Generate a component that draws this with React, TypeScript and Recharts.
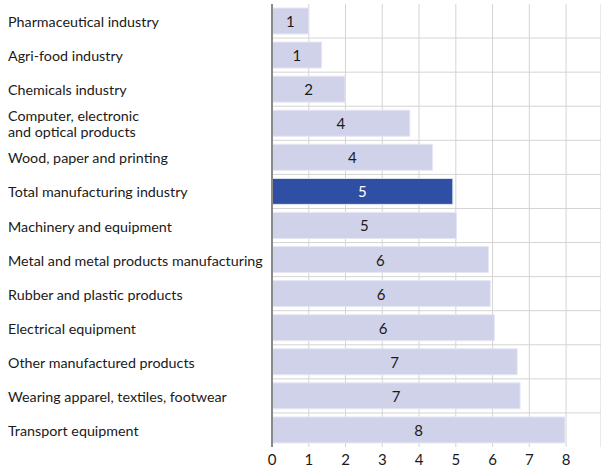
import React from "react";
import {
  BarChart,
  Bar,
  XAxis,
  YAxis,
  CartesianGrid,
  Cell,
  LabelList,
} from "recharts";

const categories = [
  "Pharmaceutical industry",
  "Agri-food industry",
  "Chemicals industry",
  "Computer, electronic\nand optical products",
  "Wood, paper and printing",
  "Total manufacturing industry",
  "Machinery and equipment",
  "Metal and metal products manufacturing",
  "Rubber and plastic products",
  "Electrical equipment",
  "Other manufactured products",
  "Wearing apparel, textiles, footwear",
  "Transport equipment",
];

const values = [1.0, 1.35, 1.99, 3.75, 4.37, 4.92, 5.02, 5.89, 5.94, 6.05, 6.67, 6.75, 7.97];

const xTicks = [0, 1, 2, 3, 4, 5, 6, 7, 8];

const HIGHLIGHT = "Total manufacturing industry";
const FONT = "Lato, 'Open Sans', sans-serif";

const data = categories.map((name, i) => ({ name, value: values[i] }));

function CategoryTick({ y, payload }: any) {
  const lines = String(payload.value).split("\n");
  const startY = y - ((lines.length - 1) * 16) / 2;
  return (
    <text
      x={8}
      y={startY}
      textAnchor="start"
      dominantBaseline="central"
      fill="#1a1a1a"
      fontSize={14.3}
      fontFamily={FONT}
    >
      {lines.map((line, i) => (
        <tspan key={i} x={8} dy={i === 0 ? 0 : 16}>
          {line}
        </tspan>
      ))}
    </text>
  );
}

function ValueLabel(props: any) {
  const { x, y, width, height, value, index } = props;
  const isTotal = categories[index] === HIGHLIGHT;
  return (
    <text
      x={x + width / 2}
      y={y + height / 2}
      textAnchor="middle"
      dominantBaseline="central"
      fill={isTotal ? "#ffffff" : "#1a1a1a"}
      fontSize={15}
      fontFamily={FONT}
    >
      {Math.round(value)}
    </text>
  );
}

export default function App() {
  return (
    <div style={{ position: "absolute", left: 0, top: 0, width: 601, height: 468, background: "#fff" }}>
      <BarChart
        width={601}
        height={468}
        data={data}
        layout="vertical"
        margin={{ top: 4, right: 0, left: 0, bottom: 1 }}
      >
        <CartesianGrid
          stroke="#d4d4d4"
          horizontalCoordinatesGenerator={({ offset }: any) =>
            categories.slice(1).map((_, i) => offset.top + ((i + 1) * offset.height) / categories.length)
          }
        />
        <XAxis
          type="number"
          domain={[0, 8.95]}
          ticks={xTicks}
          axisLine={false}
          tickLine={false}
          tickMargin={1}
          height={20}
          tick={{ fill: "#1a1a1a", fontSize: 15, fontFamily: FONT }}
        />
        <YAxis
          type="category"
          dataKey="name"
          width={272}
          axisLine={{ stroke: "#8a8a8a", strokeWidth: 2 }}
          tickLine={false}
          interval={0}
          tick={<CategoryTick />}
        />
        <Bar dataKey="value" barSize={26} isAnimationActive={false} stroke="#e6e7f4" strokeWidth={1}>
          {data.map((d) => (
            <Cell key={d.name} fill={d.name === HIGHLIGHT ? "#2e4fa3" : "#d0d2ea"} />
          ))}
          <LabelList dataKey="value" content={<ValueLabel />} />
        </Bar>
      </BarChart>
    </div>
  );
}
